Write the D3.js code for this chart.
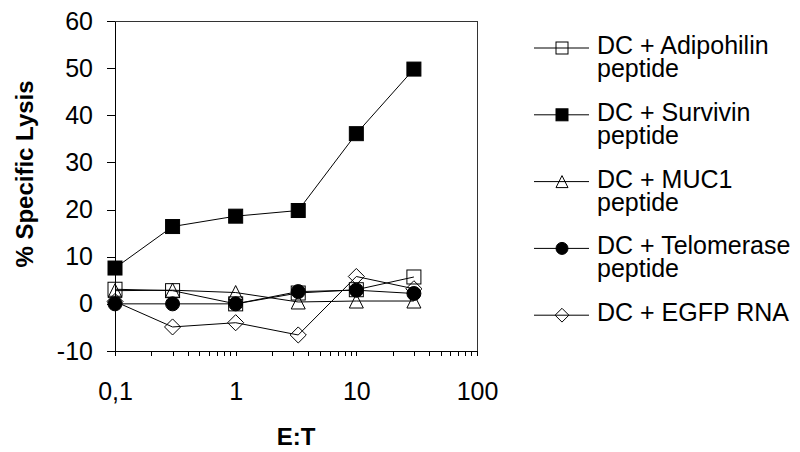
<!DOCTYPE html>
<html lang="en">
<head>
    <meta charset="UTF-8">
    <title>Specific Lysis</title>
    <style type="text/css">
        body {
            margin: 0;
            background-color: #fff;
            font-family: 'Liberation Sans', Arial, sans-serif;
        }

        .axis path,
        .axis line {
            fill: none;
            stroke: #000;
            shape-rendering: crispEdges;
        }

        .axis text {
            font-family: 'Liberation Sans', Arial, sans-serif;
            font-size: 25px;
            fill: #000;
        }
    </style>
</head>
<body>
<div id="chart"></div>
<script type="text/javascript" src="https://cdn.jsdelivr.net/npm/d3@7"></script>
<script type="text/javascript">
    // E:T ratios
    var ratios = [0.1, 0.3, 1, 3.3, 10, 30];

    var adipophilin = [3.1, 2.8, 0, 2.3, 3.0, 5.7];
    var survivin = [7.6, 16.4, 18.6, 19.8, 36.1, 49.8];
    var muc1 = [2.8, 2.9, 2.4, 0.4, 0.6, 0.6];
    var telomerase = [0, 0, 0, 2.6, 2.9, 2.2];
    var egfp = [0.5, -4.9, -4.0, -6.6, 5.8, 3.2];

    var seriesNames = [
        ["DC + Adipohilin", "peptide"],
        ["DC + Survivin", "peptide"],
        ["DC + MUC1", "peptide"],
        ["DC + Telomerase", "peptide"],
        ["DC + EGFP RNA"]
    ];
    var seriesMarkers = ["square-open", "square", "triangle-open", "circle", "diamond-open"];

    var yTicks = [-10, 0, 10, 20, 30, 40, 50, 60];
    var xMajor = [0.1, 1, 10, 100];
    var xLabels = ["0,1", "1", "10", "100"];

    var width = 800, height = 452;
    var plot = {left: 115, right: 477, top: 21, bottom: 351};

    var x = d3.scaleLog()
        .domain([0.1, 100])
        .range([plot.left, plot.right]);

    var y = d3.scaleLinear()
        .domain([-10, 60])
        .range([plot.bottom, plot.top]);

    var svg = d3.select("#chart").append("svg")
        .attr("width", width)
        .attr("height", height);

    // frame top + right
    svg.append("path")
        .attr("d", "M" + plot.left + "," + plot.top + "H" + plot.right + "V" + plot.bottom)
        .attr("fill", "none")
        .attr("stroke", "#333")
        .attr("shape-rendering", "crispEdges");

    // all log ticks (majors + minors)
    var xTickVals = [];
    xMajor.forEach(function (m, i) {
        xTickVals.push(m);
        if (i < xMajor.length - 1) {
            for (var k = 2; k < 10; k++) xTickVals.push(m * k);
        }
    });

    var xAxis = d3.axisBottom(x)
        .tickValues(xTickVals)
        .tickSize(5)
        .tickSizeOuter(0)
        .tickPadding(26)
        .tickFormat(function (d) {
            var i = xMajor.findIndex(function (m) { return Math.abs(m - d) < 1e-9; });
            return i >= 0 ? xLabels[i] : "";
        });

    svg.append("g")
        .attr("class", "axis")
        .attr("transform", "translate(0," + plot.bottom + ")")
        .call(xAxis);

    var yAxis = d3.axisLeft(y)
        .tickValues(yTicks)
        .tickSize(8)
        .tickSizeOuter(0)
        .tickPadding(14)
        .tickFormat(function (d) { return String(d); });

    svg.append("g")
        .attr("class", "axis")
        .attr("transform", "translate(" + plot.left + ",0)")
        .call(yAxis);

    // axis titles
    svg.append("text")
        .attr("transform", "translate(33,174) rotate(-90)")
        .attr("text-anchor", "middle")
        .style("font-size", "24px")
        .style("font-weight", "bold")
        .text("% Specific Lysis");

    svg.append("text")
        .attr("x", (plot.left + plot.right) / 2)
        .attr("y", 445)
        .attr("text-anchor", "middle")
        .style("font-size", "24px")
        .style("font-weight", "bold")
        .text("E:T");

    var seriesData = [adipophilin, survivin, muc1, telomerase, egfp];

    function drawMarker(g, type, cx, cy, s) {
        var open = type.indexOf("open") >= 0;
        var fill = open ? "none" : "#000";
        var h = s / 2;
        if (type.indexOf("square") === 0) {
            g.append("rect")
                .attr("x", cx - h).attr("y", cy - h)
                .attr("width", s).attr("height", s)
                .attr("fill", fill).attr("stroke", "#000").attr("stroke-width", 1);
        } else if (type.indexOf("circle") === 0) {
            g.append("circle")
                .attr("cx", cx).attr("cy", cy).attr("r", h)
                .attr("fill", fill).attr("stroke", "#000");
        } else if (type.indexOf("triangle") === 0) {
            g.append("path")
                .attr("d", "M" + cx + "," + (cy - h) + "L" + (cx + h) + "," + (cy + h) + "L" + (cx - h) + "," + (cy + h) + "Z")
                .attr("fill", fill).attr("stroke", "#000");
        } else if (type.indexOf("diamond") === 0) {
            var d = h * 1.15;
            g.append("path")
                .attr("d", "M" + cx + "," + (cy - d) + "L" + (cx + d) + "," + cy + "L" + cx + "," + (cy + d) + "L" + (cx - d) + "," + cy + "Z")
                .attr("fill", fill).attr("stroke", "#000");
        }
    }

    var line = d3.line()
        .x(function (d) { return x(d[0]); })
        .y(function (d) { return y(d[1]); });

    // draw order so overlaps resemble the original
    var drawOrder = [4, 0, 2, 3, 1];
    drawOrder.forEach(function (si) {
        var pts = ratios.map(function (r, i) { return [r, seriesData[si][i]]; });
        var g = svg.append("g");
        g.append("path")
            .datum(pts)
            .attr("d", line)
            .attr("fill", "none")
            .attr("stroke", "#000")
            .attr("stroke-width", 1);
        pts.forEach(function (p) {
            drawMarker(g, seriesMarkers[si], x(p[0]), y(p[1]), 14);
        });
    });

    // legend
    var legend = svg.append("g");
    seriesNames.forEach(function (names, i) {
        var ly = 48 + i * 66.8;
        legend.append("line")
            .attr("x1", 534).attr("x2", 589)
            .attr("y1", ly).attr("y2", ly)
            .attr("stroke", "#000");
        drawMarker(legend, seriesMarkers[i], 562, ly, 12);
        var t = legend.append("text")
            .attr("x", 597)
            .attr("y", ly + 6)
            .style("font-size", "25px");
        names.forEach(function (n, j) {
            t.append("tspan")
                .attr("x", 597)
                .attr("dy", j === 0 ? 0 : 23)
                .text(n);
        });
    });
</script>
</body>
</html>
